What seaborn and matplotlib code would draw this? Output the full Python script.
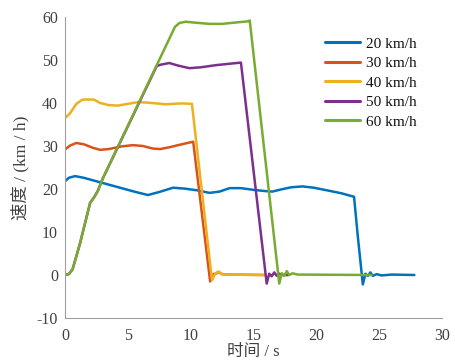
import numpy as np
import pandas as pd
import matplotlib
matplotlib.use("Agg")
import matplotlib.pyplot as plt
import seaborn as sns

# ---- data ----
labels = ["20 km/h", "30 km/h", "40 km/h", "50 km/h", "60 km/h"]
colors = ["#0072BD", "#D95319", "#EDB120", "#7E2F8E", "#77AC30"]

t20 = [0, 0.3, 0.8, 1.5, 2.5, 3.5, 4.5, 5.5, 6.6, 7.5, 8.6, 9.5, 10.5, 11.5, 12.3,
       13.1, 14.0, 15.0, 16.0, 16.5, 17.2, 18.0, 18.9, 19.8, 21.0, 22.0, 23.0, 23.3,
       23.7, 23.9, 24.1, 24.3, 24.5, 24.8, 25.2, 26.0, 27.8]
v20 = [21.8, 22.6, 23.0, 22.6, 21.8, 21.0, 20.2, 19.4, 18.6, 19.3, 20.3, 20.1, 19.7,
       19.1, 19.4, 20.2, 20.2, 19.8, 19.5, 19.4, 19.9, 20.4, 20.6, 20.3, 19.6, 19.0,
       18.2, 9.0, -2.2, 0.3, -0.2, 0.6, -0.2, 0.2, -0.1, 0.1, 0.0]

t30 = [0, 0.4, 0.9, 1.5, 2.2, 2.8, 3.5, 4.5, 5.4, 6.2, 7.0, 7.6, 8.3, 9.0, 9.6, 10.2,
       11.55, 11.8, 12.0, 12.2, 12.5, 12.9, 15.9]
v30 = [29.2, 30.1, 30.7, 30.4, 29.6, 29.1, 29.3, 29.9, 30.2, 30.0, 29.4, 29.3, 29.7,
       30.2, 30.6, 31.0, -1.5, 0.2, 0.3, 0.7, 0.2, 0.1, 0.0]

t40 = [0, 0.4, 0.9, 1.4, 2.3, 2.8, 3.5, 4.2, 5.0, 5.8, 6.5, 7.3, 8.0, 8.6, 9.3, 10.1,
       11.7, 11.95, 12.2, 12.5, 12.8, 15.9]
v40 = [36.5, 37.6, 39.8, 40.8, 40.8, 40.0, 39.5, 39.4, 39.8, 40.2, 40.1, 39.9, 39.7,
       39.8, 39.9, 39.8, -1.2, 0.3, 0.8, 0.2, 0.1, 0.0]

t50 = [0, 0.3, 0.6, 1.2, 2.0, 2.3, 2.6, 3.0, 7.3, 7.6, 8.3, 9.0, 9.9, 10.8, 12.0,
       13.0, 14.0, 16.05, 16.25, 16.45, 16.65, 16.85, 17.05, 17.3, 17.8]
v50 = [0, 0.2, 1.3, 7.4, 16.8, 18.0, 19.5, 22.4, 48.6, 48.9, 49.3, 48.7, 48.1, 48.3,
       48.8, 49.1, 49.4, -2.0, 0.3, -0.3, 0.6, -0.2, 0.3, 0.0, 0.0]

t60 = [0, 0.3, 0.6, 1.2, 2.0, 2.3, 2.6, 3.0, 8.75, 9.1, 9.6, 10.3, 11.5, 12.5, 13.5,
       14.6, 14.7, 17.05, 17.25, 17.45, 17.65, 17.85, 18.1, 18.5, 24.4]
v60 = [0, 0.2, 1.3, 7.4, 16.8, 18.0, 19.5, 22.4, 57.7, 58.6, 58.9, 58.7, 58.4, 58.4,
       58.7, 59.0, 59.2, -2.0, 0.4, -0.2, 0.9, 0.0, 0.4, 0.1, 0.0]

series_t = [t20, t30, t40, t50, t60]
series_v = [v20, v30, v40, v50, v60]

x_ticks = [0, 5, 10, 15, 20, 25, 30]
y_ticks = [-10, 0, 10, 20, 30, 40, 50, 60]

# ---- style ----
sns.set_theme(style="white")
plt.rcParams["font.family"] = ["Liberation Serif", "Noto Sans CJK SC"]
plt.rcParams["axes.unicode_minus"] = False

fig = plt.figure(figsize=(4.55, 3.6), dpi=100)
ax = fig.add_axes([65/455, 1 - 318/360, (442 - 65)/455, (318 - 17)/360])

frames = []
for lab, t, v in zip(labels, series_t, series_v):
    frames.append(pd.DataFrame({"t": t, "v": v, "s": lab}))
df = pd.concat(frames, ignore_index=True)

sns.lineplot(data=df, x="t", y="v", hue="s", hue_order=labels,
             palette=colors, linewidth=1.8, sort=False, estimator=None,
             ax=ax, legend=True)

ax.set_xlim(0, 30)
ax.set_ylim(-10, 60)
ax.set_xticks(x_ticks)
ax.set_yticks(y_ticks)
ax.tick_params(direction="in", length=4, width=0.8, colors="#a0a0a0",
               labelcolor="#404040", labelsize=11.5)
ax.tick_params(axis="x", pad=7.5)
ax.tick_params(axis="y", pad=5)
for s in ["top", "right"]:
    ax.spines[s].set_visible(False)
for s in ["left", "bottom"]:
    ax.spines[s].set_color("#a0a0a0")
    ax.spines[s].set_linewidth(0.8)

ax.set_xlabel("时间 / s", fontsize=12, color="#404040", labelpad=0)
ax.set_ylabel("速度 / (km / h)", fontsize=12.5, color="#404040", labelpad=5)

leg = ax.legend(loc="upper left", bbox_to_anchor=(325/455, 1 - 37/360),
                bbox_transform=fig.transFigure, frameon=False, fontsize=11,
                handlelength=2.3, labelspacing=0.38, handletextpad=0.4,
                borderpad=0, borderaxespad=0)
for h in leg.get_lines():
    h.set_linewidth(2.2)
for txt in leg.get_texts():
    txt.set_color("#111111")

fig.savefig("out.png", dpi=100)
